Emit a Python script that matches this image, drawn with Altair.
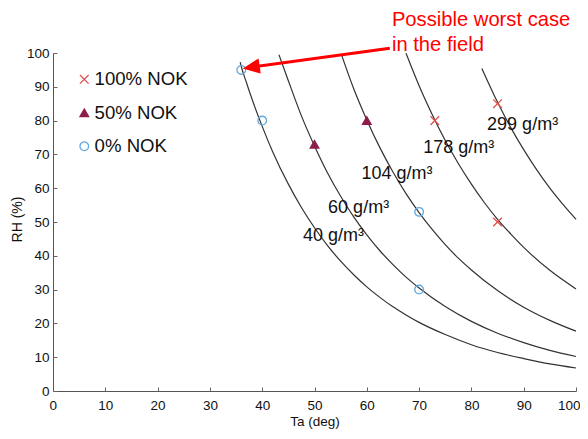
import altair as alt
import pandas as pd

# ---- iso absolute-humidity curves (Ta in deg, RH in %) ----
curve_names = ["40 g/m³", "60 g/m³", "104 g/m³", "178 g/m³", "299 g/m³"]
t_40 = [35.8, 36, 37, 38, 40, 42, 45, 47.5, 50, 52.5, 55, 57.5, 60, 62.5, 65, 67.5, 70, 75, 80, 85, 90, 95, 100]
rh_40 = [97.3, 96.0, 91.2, 86.6, 78.3, 70.8, 61.2, 54.3, 48.3, 43.0, 38.4, 34.4, 30.8, 27.7, 24.9, 22.5, 20.3, 16.7, 13.7, 11.4, 9.6, 8.0, 6.8]
t_60 = [43.2, 45, 47.5, 50, 52.5, 55, 57.5, 60, 62.5, 65, 67.5, 70, 75, 80, 85, 90, 95, 100]
rh_60 = [99.5, 91.8, 81.4, 72.5, 64.5, 57.6, 51.5, 46.2, 41.5, 37.4, 33.7, 30.5, 25.0, 20.6, 17.1, 14.3, 12.0, 10.2]
t_104 = [55.2, 57.5, 60, 62.5, 65, 67.5, 70, 72.5, 75, 77.5, 80, 85, 90, 95, 100]
rh_104 = [99.3, 89.4, 80.2, 72.0, 64.8, 58.4, 52.8, 47.8, 43.3, 39.3, 35.8, 29.7, 24.8, 20.9, 17.7]
t_178 = [67.5, 70, 72.5, 75, 77.5, 80, 82.5, 85, 87.5, 90, 95, 100]
rh_178 = [99.9, 90.3, 81.8, 74.1, 67.3, 61.2, 55.7, 50.8, 46.5, 42.5, 35.7, 30.2]
t_299 = [82, 85, 87.5, 90, 92.5, 95, 97.5, 100]
rh_299 = [95.4, 85.4, 78.0, 71.4, 65.4, 60.0, 55.2, 50.8]

# curve label anchors (data coords)
label_x = [47.8, 52.6, 59.0, 70.8, 83.0]
label_y = [44.3, 52.8, 62.7, 70.4, 77.1]

# ---- test points ----
groups = ["100% NOK", "50% NOK", "0% NOK"]
nok100_x = [73, 85, 85]
nok100_y = [80, 85, 50]
nok50_x = [50, 60]
nok50_y = [73, 80]
nok0_x = [36, 40, 70, 70]
nok0_y = [95, 80, 53, 30]

# ---- annotation ----
note_lines = ["Possible worst case", "in the field"]
note_x = [64.8, 64.8]
note_y = [107.9, 100.7]
arrow_x = [64.4, 37.9]
arrow_y = [101.4, 95.8]

ticks = [0, 10, 20, 30, 40, 50, 60, 70, 80, 90, 100]
FONT = "Liberation Sans"
W, H = 523, 338

# build tables
rows = []
for name, ts, rs in zip(curve_names, [t_40, t_60, t_104, t_178, t_299],
                        [rh_40, rh_60, rh_104, rh_178, rh_299]):
    for t, r in zip(ts, rs):
        rows.append({"curve": name, "t": t, "rh": r})
curves_df = pd.DataFrame(rows)
labels_df = pd.DataFrame({"label": curve_names, "t": label_x, "rh": label_y})
pts = []
for g, xs_, ys_ in zip(groups, [nok100_x, nok50_x, nok0_x], [nok100_y, nok50_y, nok0_y]):
    for a, b in zip(xs_, ys_):
        pts.append({"grp": g, "t": a, "rh": b})
pts_df = pd.DataFrame(pts)
note_df = pd.DataFrame({"txt": note_lines, "t": note_x, "rh": note_y})
arrow_df = pd.DataFrame({"t": arrow_x, "rh": arrow_y, "o": [0, 1]})
head_df = pd.DataFrame({"t": [arrow_x[1]], "rh": [arrow_y[1]]})

xs = alt.Scale(domain=[0, 100], nice=False, zero=False)
ys = alt.Scale(domain=[0, 100], nice=False, zero=False)

main_x_axis = alt.Axis(values=ticks, title="Ta (deg)", grid=False, ticks=False,
                       labelFont=FONT, labelFontSize=13.5, labelColor="#111",
                       labelPadding=7, titleFont=FONT, titleFontSize=13.5,
                       titleFontWeight="normal", titleColor="#111",
                       titleY=30.5, titleBaseline="middle",
                       domainColor="#555", labelFlush=True, labelFlushOffset=4)
main_y_axis = alt.Axis(values=ticks, title="RH (%)", grid=False, ticks=False,
                       labelFont=FONT, labelFontSize=13.5, labelColor="#111",
                       labelPadding=4, titleFont=FONT, titleFontSize=14,
                       titleFontWeight="normal", titleColor="#111",
                       titleAngle=270, titleBaseline="middle", titleAlign="center",
                       titleX=-36, titleY=166,
                       domainColor="#555", labelFlush=False)
tick_x_axis = alt.Axis(values=ticks, orient="top", offset=-H, labels=False, domain=False,
                       grid=False, ticks=True, tickSize=4, tickColor="#666", title=None)
tick_y_axis = alt.Axis(values=ticks, orient="right", offset=-W, labels=False, domain=False,
                       grid=False, ticks=True, tickSize=4, tickColor="#666", title=None)

lines = alt.Chart(curves_df).mark_line(interpolate="monotone", color="#333",
                                       strokeWidth=1.2).encode(
    x=alt.X("t:Q", scale=xs, axis=main_x_axis),
    y=alt.Y("rh:Q", scale=ys, axis=main_y_axis),
    detail="curve:N",
    order="t:Q",
)

tick_layer = alt.Chart(labels_df).mark_text(
    font=FONT, fontSize=18, align="left", baseline="alphabetic", color="#111"
).encode(
    x=alt.X("t:Q", scale=xs, axis=tick_x_axis),
    y=alt.Y("rh:Q", scale=ys, axis=tick_y_axis),
    text="label:N",
)

cross_path = "M-1,-1L1,1M-1,1L1,-1"
points = alt.Chart(pts_df).mark_point(filled=False, size=75, strokeWidth=1.3,
                                      opacity=1).encode(
    x=alt.X("t:Q", scale=xs, axis=None),
    y=alt.Y("rh:Q", scale=ys, axis=None),
    shape=alt.Shape("grp:N", scale=alt.Scale(domain=groups,
                    range=[cross_path, "triangle-up", "circle"]),
                    legend=alt.Legend(title=None)),
    stroke=alt.Stroke("grp:N", scale=alt.Scale(domain=groups,
                      range=["#e0524c", "#8e1c4c", "#62a9de"]),
                      legend=alt.Legend(title=None)),
    fill=alt.Fill("grp:N", scale=alt.Scale(domain=groups,
                  range=["transparent", "#8e1c4c", "transparent"]),
                  legend=alt.Legend(title=None)),
)

note = alt.Chart(note_df).mark_text(
    font=FONT, fontSize=20.2, align="left", baseline="alphabetic", color="#ff0000"
).encode(
    x=alt.X("t:Q", scale=xs, axis=None),
    y=alt.Y("rh:Q", scale=ys, axis=None),
    text="txt:N",
)

arrow_line = alt.Chart(arrow_df).mark_line(color="#ff0000", strokeWidth=3).encode(
    x=alt.X("t:Q", scale=xs, axis=None),
    y=alt.Y("rh:Q", scale=ys, axis=None),
    order="o:Q",
)

arrow_head = alt.Chart(head_df).mark_point(
    shape="M-1,0L1,-0.9L1,0.9Z", size=289, filled=True, color="#ff0000",
    opacity=1, angle=352, strokeWidth=0
).encode(
    x=alt.X("t:Q", scale=xs, axis=None),
    y=alt.Y("rh:Q", scale=ys, axis=None),
)

chart = alt.layer(lines, tick_layer, points, note, arrow_line, arrow_head).resolve_axis(
    x="independent", y="independent"
).properties(
    width=W, height=H,
    autosize=alt.AutoSizeParams(type="none"),
    padding={"left": 45, "top": 45, "right": 4, "bottom": 38},
).configure_view(stroke=None).configure_legend(
    orient="none", legendX=22, legendY=17, padding=0,
    labelFont=FONT, labelFontSize=18.6, labelColor="#111",
    symbolSize=75, symbolStrokeWidth=1.3, rowPadding=14.5, labelOffset=1,
)

chart.save("out.html", embed_options={"renderer": "svg", "actions": False})
